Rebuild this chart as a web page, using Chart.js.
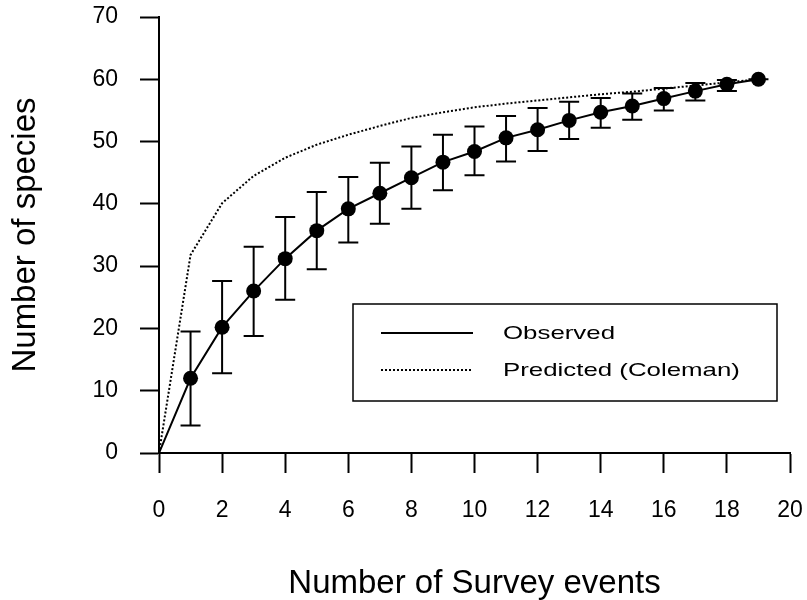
<!DOCTYPE html>
<html>
<head>
<meta charset="utf-8">
<title>Species accumulation</title>
<script src="https://cdn.jsdelivr.net/npm/chart.js@4/dist/chart.umd.min.js"></script>
<style>
	html, body { margin: 0; padding: 0; background: #fff; }
	#wrap { width: 807px; height: 600px; }
</style>
</head>
<body>
<div id="wrap"><canvas id="accumChart" width="807" height="600"></canvas></div>
<script>
// survey events and species counts
const events = [0, 1, 2, 3, 4, 5, 6, 7, 8, 9, 10, 11, 12, 13, 14, 15, 16, 17, 18, 19];
const observed = [0, 12.0, 20.2, 26.0, 31.2, 35.7, 39.2, 41.7, 44.2, 46.7, 48.4, 50.6, 51.9, 53.4, 54.7, 55.7, 56.9, 58.1, 59.2, 60.0];
const errLow = [null, 4.4, 12.8, 18.8, 24.6, 29.5, 33.8, 36.8, 39.2, 42.2, 44.6, 46.8, 48.5, 50.4, 52.2, 53.5, 55.0, 56.6, 58.1, 60.0];
const errHigh = [null, 19.5, 27.6, 33.1, 37.9, 41.9, 44.3, 46.6, 49.2, 51.1, 52.4, 54.1, 55.4, 56.4, 57.0, 57.7, 58.6, 59.4, 59.9, 60.0];
const predicted = [0, 31.8, 40.1, 44.5, 47.4, 49.5, 51.1, 52.5, 53.8, 54.7, 55.5, 56.1, 56.6, 57.1, 57.6, 58.0, 58.5, 59.0, 59.5, 60.0];
const xTicks = [0, 2, 4, 6, 8, 10, 12, 14, 16, 18, 20];
const yTicks = [0, 10, 20, 30, 40, 50, 60, 70];

const FONT = "'Liberation Sans', Arial, Helvetica, sans-serif";

document.addEventListener('DOMContentLoaded', function(){
	const ctx = document.getElementById('accumChart').getContext('2d');

	// vertical error bars with caps, drawn under the markers
	const errorBars = {
		id: 'errorBars',
		beforeDatasetsDraw(chart) {
			const c = chart.ctx, xs = chart.scales.x, ys = chart.scales.y;
			c.save();
			c.strokeStyle = '#000';
			c.lineWidth = 2;
			events.forEach((ev, i) => {
				if (errLow[i] === null) return;
				const px = xs.getPixelForValue(ev);
				const lo = ys.getPixelForValue(errLow[i]);
				const hi = ys.getPixelForValue(errHigh[i]);
				c.beginPath();
				c.moveTo(px, lo); c.lineTo(px, hi);
				c.moveTo(px - 10, lo); c.lineTo(px + 10, lo);
				c.moveTo(px - 10, hi); c.lineTo(px + 10, hi);
				c.stroke();
			});
			c.restore();
		}
	};

	// boxed legend inside the plot (text is drawn a bit wide, like the original)
	const boxLegend = {
		id: 'boxLegend',
		afterDraw(chart) {
			const c = chart.ctx;
			const box = { x: 353, y: 304, w: 424, h: 97 };
			c.save();
			c.strokeStyle = '#000';
			c.lineWidth = 1.5;
			c.strokeRect(box.x, box.y, box.w, box.h);
			c.fillStyle = '#000';
			c.textBaseline = 'middle';
			const rows = [333, 370];
			chart.data.datasets.forEach((ds, i) => {
				const y = rows[i];
				c.beginPath();
				c.lineWidth = ds.borderWidth;
				c.setLineDash(ds.borderDash || []);
				c.moveTo(381, y); c.lineTo(473, y);
				c.stroke();
				c.setLineDash([]);
				c.save();
				c.translate(503, y + 1);
				c.scale(1.36, 1);
				c.font = '19px ' + FONT;
				c.fillText(ds.label, 0, 0);
				c.restore();
			});
			c.restore();
		}
	};

	const data = {
		labels: events,
		datasets: [{
			label: 'Observed',
			data: events.map((ev, i) => ({ x: ev, y: observed[i] })),
			borderColor: '#000',
			backgroundColor: '#000',
			borderWidth: 2,
			pointRadius: events.map(ev => ev === 0 ? 0 : 7.5),
			pointBorderWidth: 0,
			pointBackgroundColor: '#000',
			tension: 0
		}, {
			label: 'Predicted (Coleman)',
			data: events.map((ev, i) => ({ x: ev, y: predicted[i] })),
			borderColor: '#000',
			borderWidth: 2,
			borderDash: [2, 2],
			pointRadius: 0,
			tension: 0
		}]
	};

	const tickFont = { family: FONT, size: 23 };
	const titleFont = { family: FONT, size: 33, lineHeight: 1 };

	const options = {
		responsive: false,
		animation: false,
		layout: { padding: { top: 17, right: 17, left: 0, bottom: 0 } },
		plugins: { legend: { display: false }, tooltip: { enabled: false } },
		scales: {
			x: {
				type: 'linear',
				min: 0, max: 20,
				afterBuildTicks: (s) => { s.ticks = xTicks.map(v => ({ value: v })); },
				afterFit: (s) => { s.height = 147; s.paddingLeft = 0; s.paddingRight = 0; },
				grid: { drawOnChartArea: false, drawTicks: true, tickLength: 20, tickWidth: 2, color: '#000' },
				border: { display: true, color: '#000', width: 2 },
				ticks: { color: '#000', font: tickFont, padding: 24, maxRotation: 0 },
				title: { display: true, text: 'Number of Survey events', color: '#000', font: titleFont, padding: { top: 0, bottom: 0 } }
			},
			y: {
				min: 0, max: 70,
				afterBuildTicks: (s) => { s.ticks = yTicks.map(v => ({ value: v })); },
				afterFit: (s) => { s.width = 159; s.paddingTop = 0; s.paddingBottom = 0; },
				grid: { drawOnChartArea: false, drawTicks: true, tickLength: 19, tickWidth: 2, color: '#000' },
				border: { display: true, color: '#000', width: 2 },
				ticks: { color: '#000', font: tickFont, padding: 22 },
				title: { display: true, text: 'Number of species', color: '#000', font: titleFont, padding: { top: 9, bottom: 0 } }
			}
		}
	};

	new Chart(ctx, { type: 'line', data: data, options: options, plugins: [errorBars, boxLegend] });
});
</script>
</body>
</html>
